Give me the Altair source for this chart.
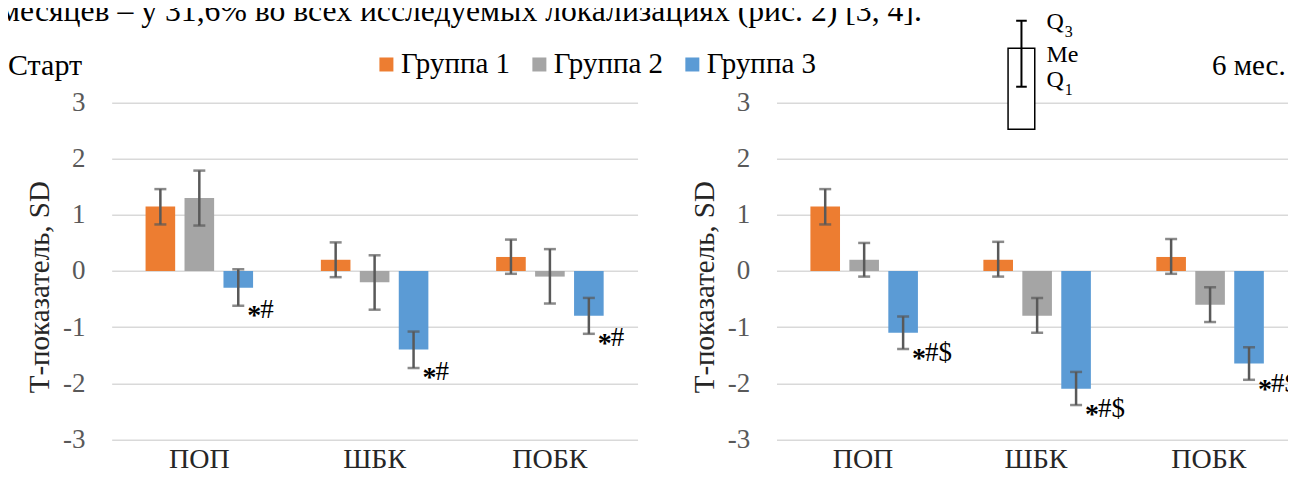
import altair as alt
import pandas as pd

FONT = "Liberation Serif"

categories = ["ПОП", "ШБК", "ПОБК"]
groups = ["Группа 1", "Группа 2", "Группа 3"]
group_colors = ["#ED7D31", "#A5A5A5", "#5B9BD5"]

top_sentence = "месяцев – у 31,6% во всех исследуемых локализациях (рис. 2) [3, 4]."
panel_start = "Старт"
panel_6m = "6 мес."

# Старт: Me, Q1, Q3 (ПОП, ШБК, ПОБК)
start_me_g1 = [1.15, 0.20, 0.25]
start_me_g2 = [1.30, -0.20, -0.10]
start_me_g3 = [-0.30, -1.40, -0.80]
start_q1_g1 = [0.83, -0.11, -0.05]
start_q1_g2 = [0.81, -0.69, -0.58]
start_q1_g3 = [-0.62, -1.73, -1.12]
start_q3_g1 = [1.46, 0.51, 0.56]
start_q3_g2 = [1.79, 0.28, 0.39]
start_q3_g3 = [0.03, -1.08, -0.48]
start_ann_g3 = ["*#", "*#", "*#"]

# 6 мес.: Me, Q1, Q3 (ПОП, ШБК, ПОБК)
m6_me_g1 = [1.15, 0.20, 0.25]
m6_me_g2 = [0.20, -0.80, -0.60]
m6_me_g3 = [-1.10, -2.10, -1.65]
m6_q1_g1 = [0.83, -0.10, -0.05]
m6_q1_g2 = [-0.10, -1.10, -0.91]
m6_q1_g3 = [-1.39, -2.39, -1.94]
m6_q3_g1 = [1.46, 0.52, 0.57]
m6_q3_g2 = [0.50, -0.48, -0.29]
m6_q3_g3 = [-0.81, -1.80, -1.36]
m6_ann_g3 = ["*#$", "*#$", "*#$"]

y_ticks = [-3, -2, -1, 0, 1, 2, 3]
y_title = "Т-показатель, SD"
box_labels = ["Q", "3", "Me", "Q", "1"]


def build_df(me, q1, q3, ann):
    rows = []
    for gi, g in enumerate(groups):
        for ci, c in enumerate(categories):
            a = ann[gi][ci]
            rows.append({"cat": c, "group": g, "me": me[gi][ci],
                         "q1": q1[gi][ci], "q3": q3[gi][ci],
                         "star": a[:1], "rest": a[1:]})
    return pd.DataFrame(rows)


empty3 = ["", "", ""]
df_start = build_df([start_me_g1, start_me_g2, start_me_g3],
                    [start_q1_g1, start_q1_g2, start_q1_g3],
                    [start_q3_g1, start_q3_g2, start_q3_g3],
                    [empty3, empty3, start_ann_g3])
df_6m = build_df([m6_me_g1, m6_me_g2, m6_me_g3],
                 [m6_q1_g1, m6_q1_g2, m6_q1_g3],
                 [m6_q3_g1, m6_q3_g2, m6_q3_g3],
                 [empty3, empty3, m6_ann_g3])

one = pd.DataFrame({"k": [0]})
H = 336.6
yscale = alt.Scale(domain=[-3, 3], nice=False, zero=False)
xscale = alt.Scale(paddingInner=0, paddingOuter=0)
oscale = alt.Scale(paddingInner=0.24, paddingOuter=0.87)

x_axis = alt.Axis(title=None, labelAngle=0, labelFont=FONT, labelFontSize=28,
                  labelColor="#262626", labelPadding=6, domain=False,
                  ticks=False, tickSize=0, grid=False)
y_axis = alt.Axis(values=y_ticks, title=y_title, titleFont=FONT, titleFontSize=29,
                  titleFontWeight="normal", titleColor="#262626", titleAngle=270,
                  titleX=-62.7, titleY=184, titleAlign="center",
                  titleBaseline="alphabetic", labelFont=FONT, labelFontSize=27,
                  labelColor="#595959", labelPadding=26.7,
                  labelExpr="'' + datum.value", domain=False, ticks=False,
                  tickSize=0, grid=True, gridColor="#D9D9D9", gridWidth=1.5)


def panel(df, legend):
    xenc = alt.X("cat:N", sort=categories, scale=xscale, axis=x_axis)
    oenc = alt.XOffset("group:N", sort=groups, scale=oscale)
    if legend:
        leg = alt.Legend(title=None, orient="none", legendX=260.3, legendY=-53,
                         direction="horizontal", symbolType="square",
                         symbolSize=196, symbolStrokeWidth=0, symbolOpacity=1,
                         labelFont=FONT, labelFontSize=29, labelColor="black",
                         labelOffset=0, columnPadding=14, padding=0, labelLimit=0)
    else:
        leg = None
    cenc = alt.Color("group:N", scale=alt.Scale(domain=groups, range=group_colors),
                     legend=leg)

    def ye(field):
        return alt.Y(field, scale=yscale, axis=y_axis, title=y_title)

    base = alt.Chart(df)
    bars = base.mark_bar().encode(x=xenc, xOffset=oenc, y=ye("me:Q"), color=cenc)
    rules = base.mark_rule(color="#595959", strokeWidth=2.5).encode(
        x=xenc, xOffset=oenc, y=ye("q1:Q"), y2="q3:Q")
    cap1 = base.mark_tick(color="#595959", thickness=2.5, size=12).encode(
        x=xenc, xOffset=oenc, y=ye("q1:Q"))
    cap3 = base.mark_tick(color="#595959", thickness=2.5, size=12).encode(
        x=xenc, xOffset=oenc, y=ye("q3:Q"))
    star = base.mark_text(align="left", baseline="middle", dx=9, dy=10.4,
                          font=FONT, fontSize=28, fontWeight="bold",
                          color="black").encode(
        x=xenc, xOffset=oenc, y=ye("q1:Q"), text="star:N")
    rest = base.mark_text(align="left", baseline="middle", dx=22, dy=4,
                          font=FONT, fontSize=27, color="black").encode(
        x=xenc, xOffset=oenc, y=ye("q1:Q"), text="rest:N")
    return [bars, rules, cap1, cap3, star, rest]


def label(text, x, y, align="left", size=29, baseline="middle", color="black"):
    return alt.Chart(one).mark_text(text=text, align=align, baseline=baseline,
                                    font=FONT, fontSize=size, color=color).encode(
        x=alt.value(x), y=alt.value(y))


def frame(x1, x2, y1, y2):
    # invisible frame that fixes the overall chart bounds
    return alt.Chart(one).mark_rect(fillOpacity=0, strokeOpacity=0, opacity=0).encode(
        x=alt.value(x1), x2=alt.value(x2), y=alt.value(y1), y2=alt.value(y2))


WL = 526
WR = 519

left_layers = [frame(-130, 10, -130, 380)] + panel(df_start, True) + [
    label(panel_start, -103.7, -36.7, size=30),
    label(top_sentence, -111.7, -82.2, size=31.7, baseline="alphabetic"),
]
left = alt.layer(*left_layers).properties(width=WL, height=H)

# Q1 / Me / Q3 schematic
box = alt.Chart(one).mark_rect(fill="white", stroke="black", strokeWidth=1.5).encode(
    x=alt.value(231.6), x2=alt.value(258.3), y=alt.value(-54.4), y2=alt.value(26.6))
whisk = alt.Chart(one).mark_rule(color="black", strokeWidth=2).encode(
    x=alt.value(245), y=alt.value(-82), y2=alt.value(-16))
capt = alt.Chart(one).mark_rule(color="black", strokeWidth=2).encode(
    x=alt.value(239.7), x2=alt.value(250.3), y=alt.value(-82))
capb = alt.Chart(one).mark_rule(color="black", strokeWidth=2).encode(
    x=alt.value(239.7), x2=alt.value(250.3), y=alt.value(-16))

right_layers = [frame(0, 540, -130, 380)] + panel(df_6m, False) + [
    label(panel_6m, 509.3, -36.7, align="right"),
    box, whisk, capt, capb,
    label(box_labels[0], 270, -73.7, size=24, baseline="alphabetic"),
    label(box_labels[1], 288.3, -65.7, size=16, baseline="alphabetic"),
    label(box_labels[2], 270, -41, size=24, baseline="alphabetic"),
    label(box_labels[3], 270, -15.7, size=24, baseline="alphabetic"),
    label(box_labels[4], 288.3, -7.7, size=16, baseline="alphabetic"),
]
right = alt.layer(*right_layers).properties(width=WR, height=H)

chart = alt.hconcat(left, right, spacing=139, bounds="flush").resolve_scale(
    color="independent").properties(
    padding={"left": -26.3, "top": -35.3, "right": -28.4, "bottom": -9.7}
).configure_view(stroke=None)

chart.save("out.html", embed_options={"renderer": "svg", "actions": False})
